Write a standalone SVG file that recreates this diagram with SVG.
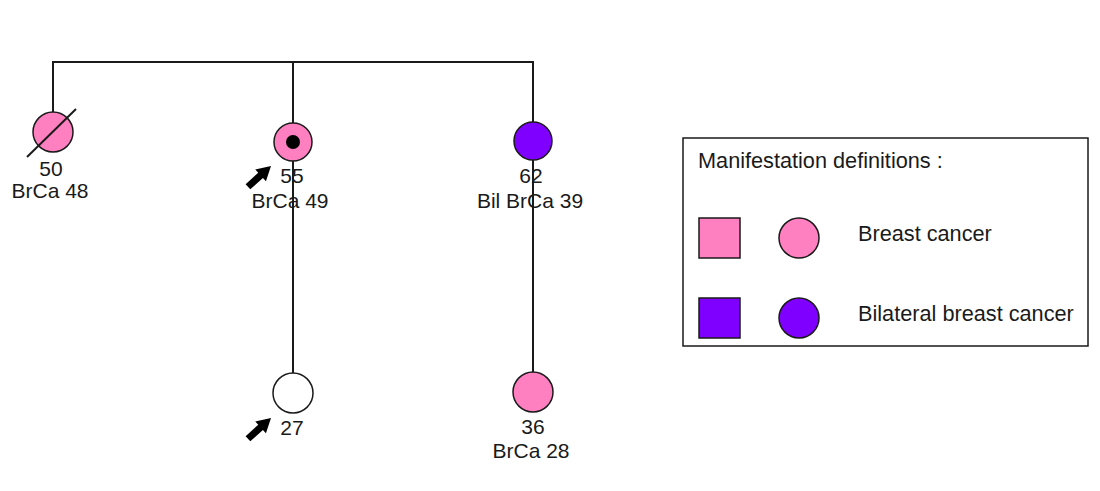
<svg xmlns="http://www.w3.org/2000/svg" width="1100" height="491" viewBox="0 0 1100 491">
  <style>
    .ln { stroke: #1a1a1a; stroke-width: 2; fill: none; }
    .person { stroke: #1a1a1a; stroke-width: 1.5; }
    .brca { fill: #ff80c0; }
    .bil { fill: #8000ff; }
    .none { fill: #ffffff; }
    text { font-family: "Liberation Sans", Arial, sans-serif; font-size: 21px; fill: #1a1a1a; }
    .c { text-anchor: middle; }
    .key { font-size: 21.7px; }
  </style>
  <defs>
    <!-- proband arrow, tip at origin -->
    <path id="proband" d="M0,0 L-14,-8 L-14,-3.5 L-31,-3.5 L-31,3.5 L-14,3.5 L-14,8 Z" fill="#000"/>
  </defs>
  <rect width="1100" height="491" fill="#ffffff"/>

  <g id="connectors">
    <path class="ln" d="M53,112 V62 H533 V122"/>
    <path class="ln" d="M293,62 V373"/>
    <path class="ln" d="M533,160 V373"/>
  </g>

  <g id="n50">
    <circle class="person brca" cx="53" cy="132" r="20"/>
    <line class="ln" x1="27" y1="157" x2="76" y2="109" stroke-width="1.5"/>
    <text class="c" x="51" y="176">50</text>
    <text class="c" x="50" y="198">BrCa 48</text>
  </g>

  <g id="n55">
    <circle class="person brca" cx="293" cy="142" r="19"/>
    <circle cx="293" cy="142" r="7" fill="#000"/>
    <use href="#proband" transform="translate(271,166) rotate(-42)"/>
    <text class="c" x="292" y="183">55</text>
    <text class="c" x="290" y="208">BrCa 49</text>
  </g>

  <g id="n62">
    <circle class="person bil" cx="533" cy="141" r="19"/>
    <text class="c" x="531" y="183">62</text>
    <text class="c" x="530" y="208">Bil BrCa 39</text>
  </g>

  <g id="n27">
    <circle class="person none" cx="293" cy="393" r="20"/>
    <use href="#proband" transform="translate(271,418) rotate(-42)"/>
    <text class="c" x="292" y="435">27</text>
  </g>

  <g id="n36">
    <circle class="person brca" cx="533" cy="392" r="20"/>
    <text class="c" x="533" y="434">36</text>
    <text class="c" x="531" y="458">BrCa 28</text>
  </g>

  <g id="legend">
    <rect x="683" y="138" width="405" height="208" fill="#ffffff" stroke="#1a1a1a" stroke-width="1.5"/>
    <text class="key" x="698" y="168">Manifestation definitions :</text>
    <rect class="person brca" x="699" y="218" width="41" height="40"/>
    <circle class="person brca" cx="799" cy="238" r="20"/>
    <text class="key" x="858" y="241">Breast cancer</text>
    <rect class="person bil" x="699" y="298" width="41" height="40"/>
    <circle class="person bil" cx="799" cy="318" r="20"/>
    <text class="key" x="858" y="321">Bilateral breast cancer</text>
  </g>
</svg>
